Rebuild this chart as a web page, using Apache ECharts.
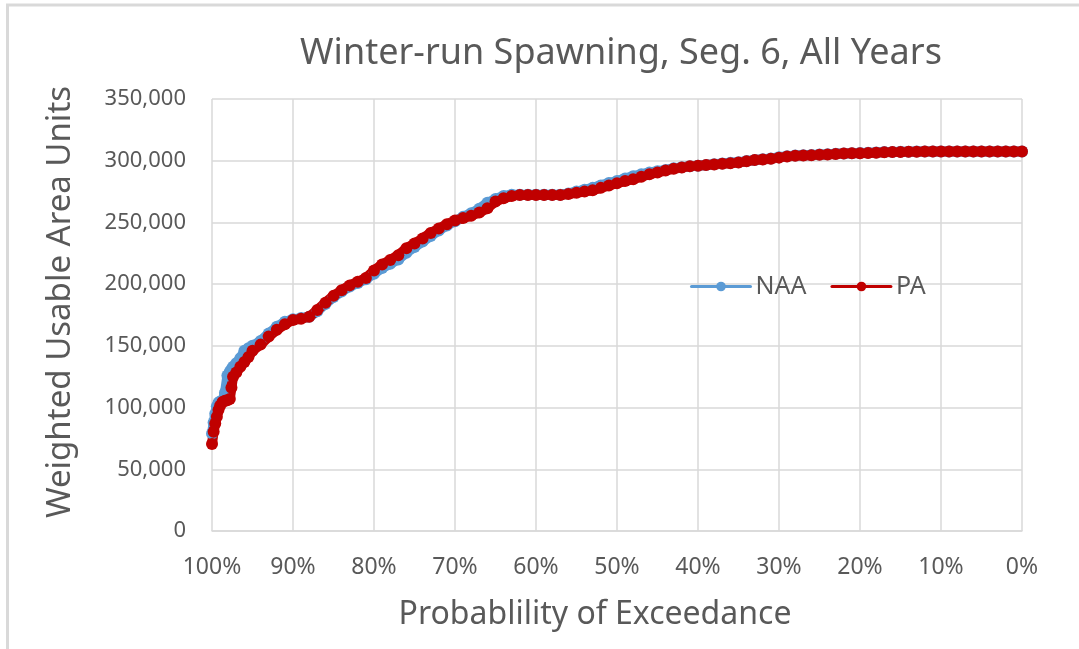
<!DOCTYPE html>
<html>
<head>
<meta charset="utf-8">
<script src="https://cdn.jsdelivr.net/npm/echarts@6/dist/echarts.min.js"></script>
<style>
html,body{margin:0;padding:0;background:#fff;}
#c{width:1079px;height:649px;}
</style>
</head>
<body>
<div id="c"></div>
<script>
// Probability of exceedance (%)
const prob = [100, 99.8, 99.6, 99.4, 99.2, 99.0, 98.7, 98.4, 98.1, 97.8, 97.6, 97.4, 97.0, 96.5, 96.0, 95.5, 95.0,
  94, 93, 92, 91, 90, 89, 88, 87, 86, 85, 84, 83, 82, 81, 80, 79, 78, 77, 76, 75, 74, 73, 72, 71, 70,
  69, 68, 67, 66, 65, 64, 63, 62, 61, 60, 59, 58, 57, 56, 55, 54, 53, 52, 51, 50,
  49, 48, 47, 46, 45, 44, 43, 42, 41, 40, 39, 38, 37, 36, 35, 34, 33, 32, 31, 30,
  29, 28, 27, 26, 25, 24, 23, 22, 21, 20, 19, 18, 17, 16, 15, 14, 13, 12, 11, 10,
  9, 8, 7, 6, 5, 4, 3, 2, 1, 0];

const naa = [79000, 88000, 95000, 101000, 104000, 105000, 105500, 112000, 126000, 129000, 131000, 133000, 136000, 140000, 146000, 148000, 150000,
  154000, 160000, 165500, 169500, 171500, 172500, 173500, 178000, 184000, 189500, 194000, 198000, 201000, 204000, 208500, 213000, 216500, 220000, 225500, 230000, 234500, 239000, 243500, 247500, 251000,
  254500, 257500, 261000, 266000, 269000, 271500, 272500, 272500, 272500, 272500, 272500, 272500, 272500, 273500, 275000, 276500, 278000, 280000, 282000, 283500,
  285500, 287500, 289000, 290500, 291500, 292500, 293800, 294800, 295500, 296000, 296600, 297200, 297800, 298300, 298800, 299700, 300600, 301200, 301800, 302800,
  303700, 304200, 304400, 304700, 305000, 305200, 305600, 305900, 306100, 306200, 306400, 306700, 307000, 307100, 307200, 307300, 307400, 307500, 307500, 307500,
  307500, 307500, 307500, 307500, 307500, 307500, 307500, 307500, 307500, 307500];

const pa = [70500, 80500, 87000, 92600, 98000, 101500, 104500, 105500, 106000, 107000, 116000, 125000, 128500, 133000, 137000, 141000, 146000,
  151000, 157500, 163000, 167500, 171000, 172000, 173500, 179000, 185000, 190500, 195000, 199000, 202000, 205000, 211000, 216000, 219500, 223500, 229000, 233000, 237000, 241500, 245000, 248500, 251500,
  253500, 255500, 258000, 261500, 267000, 269500, 271500, 272300, 272300, 272300, 272300, 272300, 272300, 273000, 274000, 275000, 276000, 278000, 280000, 281800,
  283500, 285000, 287000, 289000, 290500, 292000, 293500, 294500, 295500, 296000, 296500, 297000, 297500, 298000, 298500, 299500, 300500, 301000, 301500, 302500,
  303500, 304000, 304200, 304500, 304800, 305000, 305500, 305800, 306000, 306000, 306200, 306500, 306800, 307000, 307000, 307200, 307300, 307400, 307500, 307500,
  307500, 307500, 307500, 307500, 307500, 307500, 307500, 307500, 307500, 307500];

const seriesNames = ['NAA', 'PA'];
const titleText = 'Winter-run Spawning, Seg. 6, All Years';
const xName = 'Probablility of Exceedance';
const yName = 'Weighted Usable Area Units';

const FONT = 'Noto Sans';
const TXT = '#595959';
const GRID = '#d9d9d9';

const chart = echarts.init(document.getElementById('c'), null, {renderer: 'canvas'});
chart.setOption({
  animation: false,
  backgroundColor: '#fff',
  graphic: [{
    type: 'rect',
    shape: {x: 7.5, y: 5, width: 1100, height: 700},
    style: {fill: 'none', stroke: '#d9d9d9', lineWidth: 3},
    silent: true
  }],
  title: {
    text: titleText,
    left: 616, top: 31,
    textAlign: 'center',
    textStyle: {fontFamily: FONT, fontSize: 36, fontWeight: 'normal', color: TXT}
  },
  legend: {
    data: seriesNames,
    left: 685, top: 269,
    itemWidth: 59, itemHeight: 12, itemGap: 24,
    lineStyle: {width: 3},
    textStyle: {fontFamily: FONT, fontSize: 25, color: TXT}
  },
  grid: {left: 212, right: 57, top: 99, bottom: 118, containLabel: false},
  xAxis: {
    type: 'value', min: 0, max: 100, interval: 10, inverse: true,
    name: xName, nameLocation: 'middle', nameGap: 68,
    nameTextStyle: {fontFamily: FONT, fontSize: 32, color: TXT, padding: [0, 44, 0, 0]},
    axisLine: {show: true, lineStyle: {color: GRID, width: 1.5}},
    axisTick: {show: false},
    axisLabel: {formatter: '{value}%', fontFamily: FONT, fontSize: 23, color: TXT, margin: 25},
    splitLine: {show: true, lineStyle: {color: GRID, width: 1.5}}
  },
  yAxis: {
    type: 'value', min: 0, max: 350000, interval: 50000,
    name: yName, nameLocation: 'middle', nameGap: 135,
    nameTextStyle: {fontFamily: FONT, fontSize: 33, color: TXT, padding: [0, 0, 0, 26]},
    axisLine: {show: false}, axisTick: {show: false},
    axisLabel: {
      formatter: v => v.toLocaleString('en-US'),
      fontFamily: FONT, fontSize: 22, color: TXT, margin: 26
    },
    splitLine: {show: true, lineStyle: {color: GRID, width: 1.5}}
  },
  series: [
    {
      name: seriesNames[0], type: 'line',
      data: prob.map((p, i) => [p, naa[i]]),
      symbol: 'circle', symbolSize: 12, showSymbol: true,
      itemStyle: {color: '#5B9BD5'},
      lineStyle: {color: '#5B9BD5', width: 10, cap: 'round', join: 'round'}
    },
    {
      name: seriesNames[1], type: 'line',
      data: prob.map((p, i) => [p, pa[i]]),
      symbol: 'circle', symbolSize: 12, showSymbol: true,
      itemStyle: {color: '#C00000'},
      lineStyle: {color: '#C00000', width: 10, cap: 'round', join: 'round'}
    }
  ]
});
</script>
</body>
</html>
